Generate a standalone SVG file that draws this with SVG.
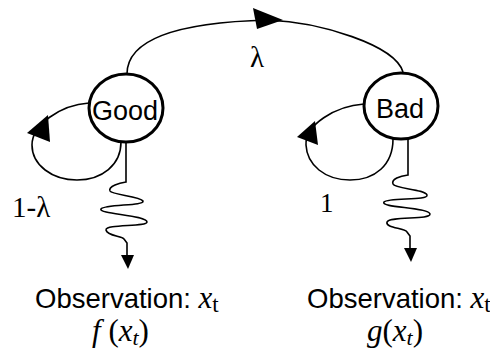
<svg xmlns="http://www.w3.org/2000/svg" width="490" height="354" viewBox="0 0 490 354">
  <style>
    .node { fill: #ffffff; stroke: #000000; stroke-width: 3; }
    .lbl { font-family: "Liberation Sans", Arial, sans-serif; fill: #000000; }
    .serif { font-family: "Liberation Serif", "Times New Roman", serif; fill: #000000; }
    .edge { fill: none; stroke: #000000; stroke-width: 1.6; }
    .head { fill: #000000; stroke: none; }
  </style>
  <rect x="0" y="0" width="490" height="354" fill="#ffffff"/>
  <g id="connectors">
    <path class="edge" d="M127,74 C127,35 190,22 268,20 C320,22 395,45 403,72"/>
    <polygon class="head" points="253,8 257,29 283,20"/>
    <path class="edge" d="M89,103 C60,105 32,125 32,145 C32,165 52,180 77,180 C102,180 121,165 121,142"/>
    <polygon class="head" points="48,115 27,133 50,142"/>
    <path class="edge" d="M364,104 C335,106 305,125 306,145 C307,165 325,180 350,180 C375,180 393,165 393,139"/>
    <polygon class="head" points="315,121 297,137 318,145"/>
    <path class="edge" d="M126,142 L126,182 C120,183 108,186 110,191 C112,195 140,196 143,201 C145,206 105,204 101,209 C98,214 147,215 147,222 C147,227 105,224 106,230 C107,236 122,236 124,239 L127,243 L127,256"/>
    <polygon class="head" points="121,255 134,255 128,269"/>
    <path class="edge" d="M408,139 L408,175 C400,176 391,179 393,184 C395,189 425,189 427,195 C429,201 388,197 384,202 C380,208 428,207 430,214 C431,220 390,216 387,222 C385,228 405,228 407,232 L410,236 L410,249"/>
    <polygon class="head" points="404,248 417,248 411,262"/>
  </g>
  <g id="node-good">
    <ellipse class="node" cx="126" cy="108" rx="37" ry="34"/>
    <text class="lbl" x="125" y="120" font-size="27" text-anchor="middle">Good</text>
  </g>
  <g id="node-bad">
    <ellipse class="node" cx="401" cy="106" rx="37" ry="33"/>
    <text class="lbl" x="400" y="118" font-size="27" text-anchor="middle">Bad</text>
  </g>
  <g id="edge-labels">
    <text class="serif" x="257" y="67" font-size="29" text-anchor="middle">λ</text>
    <text class="serif" x="12" y="217" font-size="29">1-λ</text>
    <text class="serif" x="320" y="212" font-size="27">1</text>
  </g>
  <g id="obs-good">
    <text x="35" y="308"><tspan class="lbl" font-size="27.5">Observation: </tspan><tspan class="serif" font-size="31" font-style="italic">x</tspan><tspan class="serif" font-size="23" dy="4">t</tspan></text>
    <text class="serif" x="92" y="341" font-size="31"><tspan font-style="italic">f </tspan>(<tspan font-style="italic">x</tspan><tspan font-style="italic" font-size="22" dy="4">t</tspan><tspan dy="-4">)</tspan></text>
  </g>
  <g id="obs-bad">
    <text x="307" y="308"><tspan class="lbl" font-size="27.5">Observation: </tspan><tspan class="serif" font-size="31" font-style="italic">x</tspan><tspan class="serif" font-size="23" dy="4">t</tspan></text>
    <text class="serif" x="367" y="341" font-size="31"><tspan font-style="italic">g</tspan>(<tspan font-style="italic">x</tspan><tspan font-style="italic" font-size="22" dy="4">t</tspan><tspan dy="-4">)</tspan></text>
  </g>
</svg>
